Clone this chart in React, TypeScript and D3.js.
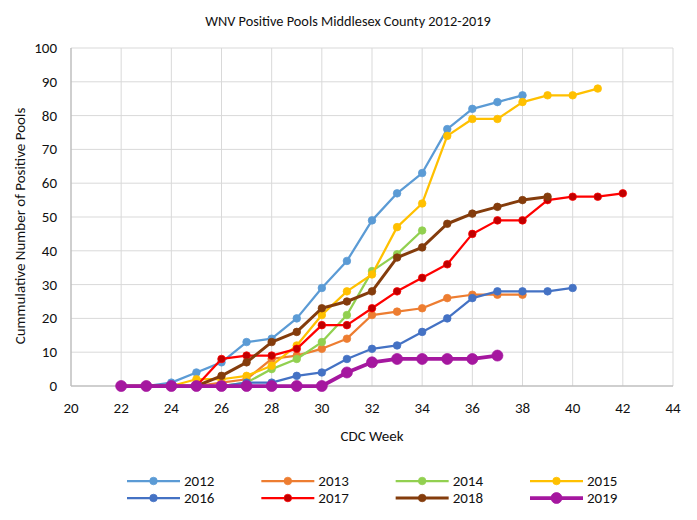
import React, { useRef, useEffect } from 'react';
import * as d3 from 'd3';

// cumulative positive pools, every series starts at CDC week 22
const startWeek = 22;
const years = ['2012', '2013', '2014', '2015', '2016', '2017', '2018', '2019'];
const pools2012 = [0, 0, 1, 4, 7, 13, 14, 20, 29, 37, 49, 57, 63, 76, 82, 84, 86];
const pools2013 = [0, 0, 0, 0, 1, 2, 8, 9, 11, 14, 21, 22, 23, 26, 27, 27, 27];
const pools2014 = [0, 0, 0, 0, 0, 1, 5, 8, 13, 21, 34, 39, 46];
const pools2015 = [0, 0, 0, 2, 2, 3, 6, 12, 21, 28, 33, 47, 54, 74, 79, 79, 84, 86, 86, 88];
const pools2016 = [0, 0, 0, 0, 0, 1, 1, 3, 4, 8, 11, 12, 16, 20, 26, 28, 28, 28, 29];
const pools2017 = [0, 0, 0, 0, 8, 9, 9, 11, 18, 18, 23, 28, 32, 36, 45, 49, 49, 55, 56, 56, 57];
const pools2018 = [0, 0, 0, 0, 3, 7, 13, 16, 23, 25, 28, 38, 41, 48, 51, 53, 55, 56];
const pools2019 = [0, 0, 0, 0, 0, 0, 0, 0, 0, 4, 7, 8, 8, 8, 8, 9];

const xTicks = [20, 22, 24, 26, 28, 30, 32, 34, 36, 38, 40, 42, 44];
const yTicks = [0, 10, 20, 30, 40, 50, 60, 70, 80, 90, 100];

const FONT = 'Carlito, Calibri, Lato, sans-serif';
const TEXT = '#111';

const App = () => {
    const svgRef = useRef<SVGSVGElement>(null);

    useEffect(() => {
        const width = 697;
        const height = 520;
        const margin = { top: 48, right: 24, bottom: 134, left: 71 };

        const series = [
            { name: years[0], values: pools2012, color: '#5B9BD5', fill: '#5B9BD5', width: 2.25, r: 3.8 },
            { name: years[1], values: pools2013, color: '#ED7D31', fill: '#ED7D31', width: 2.25, r: 3.8 },
            { name: years[2], values: pools2014, color: '#92D050', fill: '#92D050', width: 2.25, r: 3.8 },
            { name: years[3], values: pools2015, color: '#FFC000', fill: '#FFC000', width: 2.25, r: 3.8 },
            { name: years[4], values: pools2016, color: '#4472C4', fill: '#4472C4', width: 2.25, r: 3.8 },
            { name: years[5], values: pools2017, color: '#FF0000', fill: '#C00000', width: 2.25, r: 3.8 },
            { name: years[6], values: pools2018, color: '#843C0C', fill: '#843C0C', width: 3, r: 3.8 },
            { name: years[7], values: pools2019, color: '#A5179F', fill: '#A5179F', width: 3.75, r: 5.5 },
        ];

        const svg = d3.select(svgRef.current)
            .attr('width', width)
            .attr('height', height)
            .style('position', 'absolute')
            .style('left', '0px')
            .style('top', '0px')
            .style('background', '#fff');

        svg.selectAll('*').remove();

        const x = d3.scaleLinear().domain([20, 44]).range([margin.left, width - margin.right]);
        const y = d3.scaleLinear().domain([0, 100]).range([height - margin.bottom, margin.top]);

        // grid
        const grid = svg.append('g');
        grid.selectAll('line.h')
            .data(yTicks.slice(1))
            .enter()
            .append('line')
            .attr('x1', x(20)).attr('x2', x(44))
            .attr('y1', d => y(d)).attr('y2', d => y(d))
            .attr('stroke', '#D9D9D9').attr('stroke-width', 1);
        grid.selectAll('line.v')
            .data(xTicks.slice(1))
            .enter()
            .append('line')
            .attr('x1', d => x(d)).attr('x2', d => x(d))
            .attr('y1', y(0)).attr('y2', y(100))
            .attr('stroke', '#D9D9D9').attr('stroke-width', 1);

        // axis lines
        svg.append('line')
            .attr('x1', x(20)).attr('x2', x(20)).attr('y1', y(0)).attr('y2', y(100))
            .attr('stroke', '#BFBFBF').attr('stroke-width', 1.5);
        svg.append('line')
            .attr('x1', x(20)).attr('x2', x(44)).attr('y1', y(0)).attr('y2', y(0))
            .attr('stroke', '#BFBFBF').attr('stroke-width', 1.5);

        // tick labels
        svg.append('g').selectAll('text')
            .data(yTicks)
            .enter()
            .append('text')
            .attr('x', x(20) - 14)
            .attr('y', d => y(d) + 5)
            .attr('text-anchor', 'end')
            .attr('font-family', FONT)
            .attr('font-size', 15)
            .attr('fill', TEXT)
            .text(d => d);
        svg.append('g').selectAll('text')
            .data(xTicks)
            .enter()
            .append('text')
            .attr('x', d => x(d))
            .attr('y', y(0) + 27)
            .attr('text-anchor', 'middle')
            .attr('font-family', FONT)
            .attr('font-size', 15)
            .attr('fill', TEXT)
            .text(d => d);

        // titles
        svg.append('text')
            .attr('x', 348)
            .attr('y', 26)
            .attr('text-anchor', 'middle')
            .attr('font-family', FONT)
            .attr('font-size', 14.3)
            .attr('fill', TEXT)
            .text('WNV Positive Pools Middlesex County 2012-2019');
        svg.append('text')
            .attr('x', x(32))
            .attr('y', 441)
            .attr('text-anchor', 'middle')
            .attr('font-family', FONT)
            .attr('font-size', 15)
            .attr('fill', TEXT)
            .text('CDC Week');
        svg.append('text')
            .attr('transform', `translate(25, 226) rotate(-90)`)
            .attr('text-anchor', 'middle')
            .attr('font-family', FONT)
            .attr('font-size', 15)
            .attr('fill', TEXT)
            .text('Cummulative Number of Positive Pools');

        const line = d3.line<number>()
            .x((d, i) => x(startWeek + i))
            .y(d => y(d));

        series.forEach(s => {
            const g = svg.append('g');
            g.append('path')
                .datum(s.values)
                .attr('fill', 'none')
                .attr('stroke', s.color)
                .attr('stroke-width', s.width)
                .attr('stroke-linejoin', 'round')
                .attr('d', line);
            g.selectAll('circle')
                .data(s.values)
                .enter()
                .append('circle')
                .attr('cx', (d, i) => x(startWeek + i))
                .attr('cy', d => y(d))
                .attr('r', s.r)
                .attr('fill', s.fill)
                .attr('stroke', s.color)
                .attr('stroke-width', 0.75);
        });

        // legend, 4 columns x 2 rows
        const legendX = d3.scalePoint<number>().domain([0, 1, 2, 3]).range([127, 530]);
        const legendY = d3.scalePoint<number>().domain([0, 1]).range([481, 498]);
        const legend = svg.append('g');
        series.forEach((s, i) => {
            const lx = legendX(i % 4) as number;
            const ly = legendY(Math.floor(i / 4)) as number;
            legend.append('line')
                .attr('x1', lx).attr('x2', lx + 53)
                .attr('y1', ly).attr('y2', ly)
                .attr('stroke', s.color)
                .attr('stroke-width', s.width);
            legend.append('circle')
                .attr('cx', lx + 26.5).attr('cy', ly)
                .attr('r', s.r)
                .attr('fill', s.fill)
                .attr('stroke', s.color)
                .attr('stroke-width', 0.75);
            legend.append('text')
                .attr('x', lx + 57)
                .attr('y', ly + 5)
                .attr('font-family', FONT)
                .attr('font-size', 15)
                .attr('fill', TEXT)
                .text(s.name);
        });
    }, []);

    return <svg ref={svgRef}></svg>;
};

export default App;
